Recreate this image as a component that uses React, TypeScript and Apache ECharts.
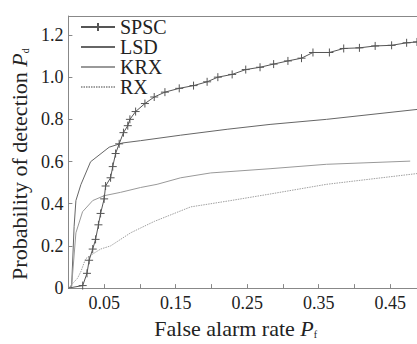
import React, { useEffect, useRef } from "react";
import * as echarts from "echarts";

const seriesNames = ["SPSC", "LSD", "KRX", "RX"];

const spscData: number[][] = [
  [0, 0], [0.02, 0.012], [0.026, 0.07], [0.029, 0.132], [0.034, 0.185], [0.038, 0.231],
  [0.042, 0.3], [0.045, 0.354], [0.05, 0.423], [0.052, 0.484], [0.059, 0.523],
  [0.062, 0.576], [0.066, 0.638], [0.071, 0.684], [0.077, 0.737], [0.083, 0.77],
  [0.086, 0.8], [0.094, 0.837], [0.107, 0.875], [0.12, 0.906], [0.135, 0.929],
  [0.155, 0.947], [0.175, 0.96], [0.194, 0.978], [0.209, 1.0], [0.229, 1.013],
  [0.248, 1.036], [0.268, 1.047], [0.287, 1.062], [0.307, 1.077], [0.326, 1.09],
  [0.342, 1.117], [0.365, 1.117], [0.385, 1.136], [0.407, 1.139], [0.429, 1.148],
  [0.452, 1.151], [0.473, 1.163], [0.4875, 1.167],
];

const lsdData: number[][] = [
  [0, 0], [0.0045, 0.009], [0.008, 0.293], [0.0105, 0.415], [0.0174, 0.49],
  [0.031, 0.599], [0.057, 0.668], [0.0756, 0.688], [0.101, 0.699], [0.157, 0.725],
  [0.222, 0.753], [0.282, 0.776], [0.361, 0.8], [0.4875, 0.847],
];

const krxData: number[][] = [
  [0, 0], [0.0045, 0.009], [0.0105, 0.262], [0.0198, 0.362], [0.034, 0.415],
  [0.05, 0.438], [0.073, 0.454], [0.101, 0.477], [0.124, 0.492], [0.157, 0.523],
  [0.199, 0.546], [0.282, 0.566], [0.361, 0.587], [0.478, 0.602],
];

const rxData: number[][] = [
  [0, 0], [0.0128, 0.047], [0.0174, 0.078], [0.024, 0.139], [0.031, 0.155],
  [0.045, 0.185], [0.059, 0.2], [0.073, 0.231], [0.087, 0.262], [0.101, 0.285],
  [0.12, 0.316], [0.171, 0.385], [0.227, 0.415], [0.282, 0.446], [0.361, 0.492],
  [0.4875, 0.543],
];

const FONT = "serif";
const AXIS = "#888";
const TXT = "#222";

export default function App() {
  const ref = useRef<HTMLDivElement>(null);
  useEffect(() => {
    const chart = echarts.init(ref.current!, null, { renderer: "svg" });
    const plus = "path://M0,5L10,5M5,0L5,10";
    const richName = {
      n: { fontFamily: FONT, fontSize: 22, color: TXT, lineHeight: 22, verticalAlign: "bottom" },
      i: { fontFamily: FONT, fontSize: 22, color: TXT, fontStyle: "italic", lineHeight: 22, verticalAlign: "bottom" },
      s: { fontFamily: FONT, fontSize: 10, color: TXT, lineHeight: 22, verticalAlign: "bottom" },
    };
    chart.setOption({
      animation: false,
      backgroundColor: "#fff",
      textStyle: { fontFamily: FONT },
      grid: { left: 67.5, right: 0, top: 16, bottom: 47 },
      legend: {
        orient: "vertical",
        left: 75,
        top: 12,
        itemWidth: 34,
        itemHeight: 10,
        itemGap: 0,
        textStyle: { fontFamily: FONT, fontSize: 20, color: TXT, lineHeight: 20 },
        data: [
          { name: seriesNames[0] },
          { name: seriesNames[1], itemStyle: { opacity: 0 } },
          { name: seriesNames[2], itemStyle: { opacity: 0 } },
          { name: seriesNames[3], itemStyle: { opacity: 0 } },
        ],
      },
      xAxis: [
        {
          type: "value",
          min: 0,
          max: 0.4875,
          interval: 0.05,
          axisLine: { show: true, lineStyle: { color: AXIS, width: 1 } },
          axisTick: { show: true, inside: true, length: 4, lineStyle: { color: AXIS } },
          splitLine: { show: false },
          axisLabel: {
            fontFamily: FONT,
            fontSize: 18,
            color: TXT,
            margin: 6,
            showMaxLabel: false,
            formatter: (v: number) => {
              const k = Math.round(v / 0.05);
              return k % 2 === 1 ? v.toFixed(2) : "";
            },
          },
          name: "{n|False alarm rate }{i|P}{s|f}",
          nameLocation: "middle",
          nameGap: 24,
          nameTextStyle: { fontFamily: FONT, rich: richName, padding: [0, 14, 0, 0] },
        },
        {
          type: "value",
          position: "top",
          min: 0,
          max: 0.4875,
          axisLine: { show: true, lineStyle: { color: AXIS, width: 1 } },
          axisTick: { show: false },
          axisLabel: { show: false },
          splitLine: { show: false },
        },
      ],
      yAxis: {
        type: "value",
        min: 0,
        max: 1.29,
        interval: 0.2,
        axisLine: { show: true, lineStyle: { color: AXIS, width: 1 } },
        axisTick: { show: true, inside: true, length: 4, lineStyle: { color: AXIS } },
        splitLine: { show: false },
        axisLabel: {
          fontFamily: FONT,
          fontSize: 18,
          color: TXT,
          margin: 5,
          showMaxLabel: false,
          formatter: (v: number) => (v === 0 ? "0" : v.toFixed(1)),
        },
        name: "{n|Probability of detection }{i|P}{s|d}",
        nameLocation: "middle",
        nameGap: 34,
        nameTextStyle: { fontFamily: FONT, rich: richName, padding: [0, 24, 0, 0] },
      },
      series: [
        {
          name: "SPSC",
          type: "line",
          data: spscData.map((p, i) => (i === 0 ? { value: p, symbol: "none" } : p)),
          symbol: plus,
          symbolSize: 8,
          showSymbol: true,
          itemStyle: { color: "#555", borderColor: "#555", borderWidth: 1 },
          lineStyle: { color: "#555", width: 1 },
          z: 5,
        },
        {
          name: "LSD",
          type: "line",
          data: lsdData,
          showSymbol: false,
          symbol: "none",
          itemStyle: { color: "#666" },
          lineStyle: { color: "#666", width: 1 },
        },
        {
          name: "KRX",
          type: "line",
          data: krxData,
          showSymbol: false,
          symbol: "none",
          itemStyle: { color: "#999" },
          lineStyle: { color: "#999", width: 1 },
        },
        {
          name: "RX",
          type: "line",
          data: rxData,
          showSymbol: false,
          symbol: "none",
          itemStyle: { color: "#a0a0a0" },
          lineStyle: { color: "#a0a0a0", width: 1, type: [1.5, 1] },
        },
      ],
    });
    return () => chart.dispose();
  }, []);
  return (
    <div
      ref={ref}
      style={{ position: "fixed", left: 0, top: 0, width: 417, height: 344 }}
    />
  );
}
